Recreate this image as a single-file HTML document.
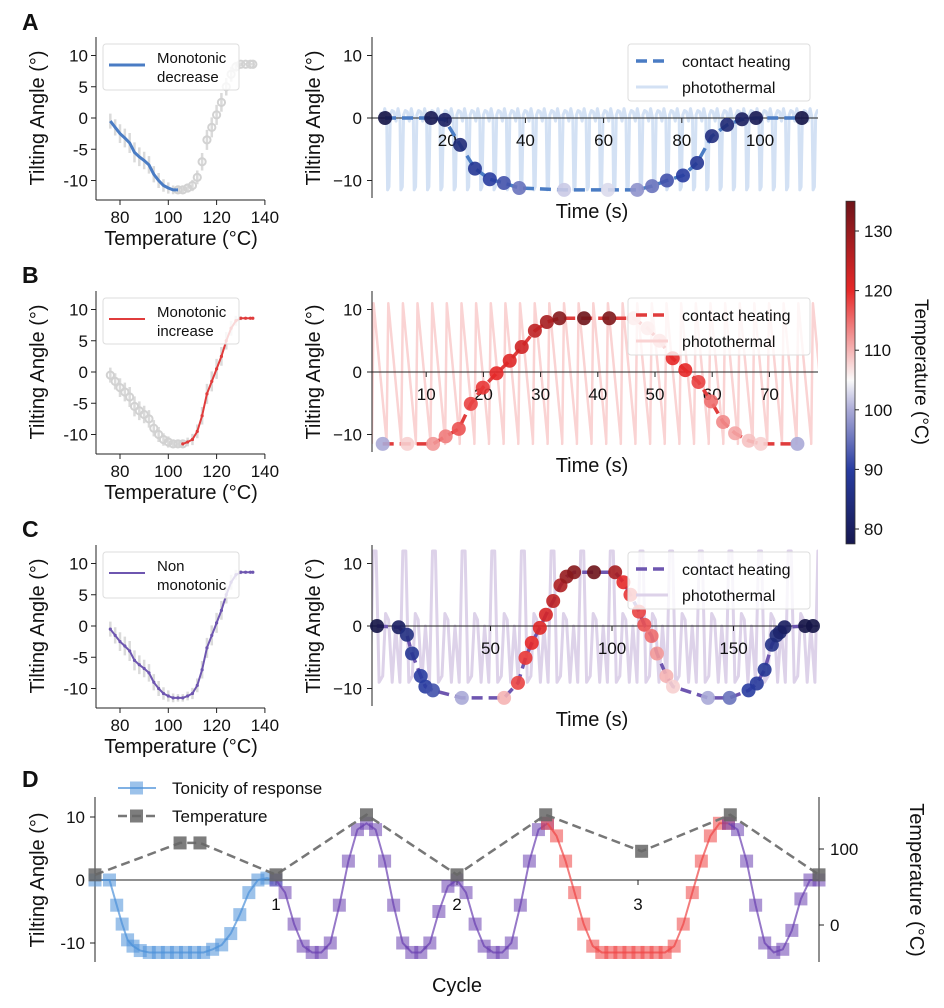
<!DOCTYPE html>
<html><head><meta charset="utf-8"><style>
html,body{margin:0;padding:0;background:#fff;}
svg{display:block;font-family:"Liberation Sans",Arial,sans-serif;}
</style></head><body>
<svg id="fig" width="944" height="1008" viewBox="0 0 944 1008" xmlns="http://www.w3.org/2000/svg"></svg>
<script>
// ---------- DATA ----------
const curveT = [76,78,80,82,84,86,88,90,92,94,96,98,100,102,104,106,108,110,112,114,116,118,120,122,124,126,128,130,132,134,135];
const curveA = [-0.5,-1.5,-2.5,-3.2,-4,-5.5,-6.2,-6.8,-7.5,-9,-10,-10.8,-11.2,-11.5,-11.5,-11.5,-11.2,-10.8,-9.5,-7,-3.5,-1.5,0.5,2.5,5,7,8.2,8.6,8.6,8.6,8.6];
const curveErr = [1.2,1.3,1.5,1.5,1.6,1.6,1.5,1.4,1.4,1.3,1.2,1.0,0.9,0.7,0.6,0.6,0.7,0.9,1.1,1.4,1.6,1.6,1.6,1.5,1.4,1.2,0.8,0.3,0.2,0.2,0.2];
const aTime = [4.1,15.9,19.4,23.3,27.1,30.9,34.5,38.4,49.9,61.1,68.6,72.4,76.2,80.3,83.9,87.7,91.6,95.4,99,110.7];
const aAngle = [0,0,-0.3,-4.3,-8.1,-9.8,-10.4,-11.2,-11.5,-11.5,-11.5,-10.9,-10,-9.2,-7.2,-2.9,-1.1,-0.2,0,0];
const aTemp = [76,78,80,84,88,90,92,95,102,103,98,95,92,90,88,85,83,80,78,76];
const bTime = [2.4,6.7,11.2,13.4,15.7,17.8,19.9,22.3,24.6,26.7,29,31.1,33.3,37.6,42,46.3,48.7,50.8,53.1,55.3,57.6,59.8,61.9,64,66.4,68.5,74.9];
const bAngle = [-11.5,-11.5,-11.5,-10.3,-9.1,-5.1,-2.5,-0.2,1.8,4,6.6,8,8.6,8.6,8.6,8.6,7,5,2.2,0.3,-1.6,-4.7,-8,-9.8,-11,-11.5,-11.5];
const bTemp = [100,108,112,114,117,118,119,120,121,123,125,128,132,135,133,110,110,112,120,120,118,115,113,111,109,108,100];
const cTime = [3.3,12.2,15.6,17.7,21.3,23.2,26.3,38.2,55.6,61.3,64.4,67,70.3,72.8,75.8,78.8,81.3,84.4,92.6,101.3,104.7,107.6,111.1,113.3,116.3,118.5,122.4,125.1,139.5,148.4,156.2,159.6,162.8,165.8,167.7,169.1,171,179.5,182.7];
const cAngle = [0,-0.2,-1.4,-4.4,-8,-9.7,-10.3,-11.5,-11.5,-9.1,-5.1,-2.7,-0.3,1.8,4,6.5,7.9,8.6,8.6,8.6,7,5,2.3,0.2,-1.6,-4.4,-8,-9.7,-11.5,-11.5,-10.3,-9.2,-7,-3,-1.5,-1,-0.2,0,0];
const cTemp = [76,80,85,88,90,90,92,100,110,118,119,120,121,122,125,127,130,132,135,128,120,119,118,117,115,112,110,108,100,95,90,89,88,86,84,82,80,76,76];
const ptAPhase = [0,0.15,0.3,0.45,0.52,0.62,0.72,0.85,1];
const ptAAngle = [1,-0.5,1.5,0,-11.5,-11,0.5,1.2,1];
const ptBPhase = [0,0.12,1];
const ptBAngle = [-11.5,11,-11];
const ptCPhase = [0,0.1,0.2,0.3,0.42,0.52,0.62,0.74,0.86,1];
const ptCAngle = [-9,12,12,-9,-8,2,1,-9,0,-9];
const dCycle = [0,0.08,0.12,0.15,0.18,0.21,0.25,0.3,0.35,0.4,0.45,0.5,0.55,0.6,0.65,0.7,0.75,0.8,0.85,0.9,0.95,1.0];
const dBlue  = [0,0,-4,-7,-9.5,-10.5,-11.2,-11.5,-11.5,-11.5,-11.5,-11.5,-11.5,-11.5,-11,-10.3,-8.5,-5.5,-2,0,0.3,0];
const dP1Cycle = [1,1.05,1.1,1.15,1.2,1.25,1.3,1.35,1.4,1.45,1.5,1.55,1.6,1.65,1.7,1.75,1.8,1.85,1.9,1.95,2,2.05,2.1,2.15,2.2,2.25,2.3,2.35,2.4,2.45,2.5];
const dP1 = [0,-2,-7,-10.5,-11.5,-11.5,-10,-4,3,8,9,8,3,-4,-10,-11.5,-11.5,-10,-5,-1,0,-2,-7,-10.5,-11.5,-11.5,-10,-4,3,8,9];
const dRCycle = [2.5,2.55,2.6,2.65,2.7,2.75,2.8,2.85,2.9,2.95,3,3.05,3.1,3.15,3.2,3.25,3.3,3.35,3.4,3.45,3.5];
const dRed = [9,7,3,-2,-7,-10.5,-11.5,-11.5,-11.5,-11.5,-11.5,-11.5,-11.5,-11.5,-10.5,-7,-2,3,7,9,9];
const dP2Cycle = [3.5,3.55,3.6,3.65,3.7,3.75,3.8,3.85,3.9,3.95,4];
const dP2 = [9,8,3,-4,-10,-11.5,-11,-8,-3,0,0];
const dTempCycle = [0,0.47,0.58,1,1.5,2,2.49,3.02,3.51,4];
const dTempVal = [66,108,108,66,145,66,145,97,145,66];
const leftYTicks = [10,5,0,-5,-10];
const leftXTicks = [80,100,120,140];
const rightYTicks = [10,0,-10];
const aXTicks = [20,40,60,80,100];
const bXTicks = [10,20,30,40,50,60,70];
const cXTicks = [50,100,150];
const cbTicks = [80,90,100,110,120,130];
const dXTicks = [1,2,3];
const dTempTicks = [0,100];

// ---------- helpers ----------
const NS='http://www.w3.org/2000/svg';
const svg=document.getElementById('fig');
function el(tag,attrs,parent){const e=document.createElementNS(NS,tag);for(const k in attrs)e.setAttribute(k,attrs[k]);(parent||svg).appendChild(e);return e;}
function txt(s,x,y,size,anchor,parent,extra){const t=el('text',Object.assign({x:x,y:y,'font-size':size,'text-anchor':anchor||'middle',fill:'#111'},extra||{}),parent);t.textContent=s;return t;}
function cmap(T){
  const st=[[76,[20,20,70]],[90,[40,60,160]],[100,[170,170,215]],[105,[250,250,250]],[110,[245,180,180]],[120,[230,40,40]],[135,[110,20,25]]];
  if(T<=st[0][0])return 'rgb('+st[0][1]+')';
  for(let i=1;i<st.length;i++){if(T<=st[i][0]){const f=(T-st[i-1][0])/(st[i][0]-st[i-1][0]);const c=st[i-1][1].map((v,j)=>Math.round(v+(st[i][1][j]-v)*f));return 'rgb('+c+')';}}
  return 'rgb('+st[st.length-1][1]+')';
}
function pathD(xs,ys,sx,sy){return xs.map((x,i)=>(i?'L':'M')+sx(x).toFixed(1)+','+sy(ys[i]).toFixed(1)).join('');}

// ---------- left panels ----------
function leftPanel(key,y0,mode,color,legend1,legend2){
  const g=el('g',{});
  
  
  const sx=T=>120+(T-80)*2.415, sy=a=>y0-a*6.25;
  const top=y0-81, bot=y0+82;
  el('line',{x1:96,y1:top,x2:96,y2:bot,stroke:'#222','stroke-width':1},g);
  el('line',{x1:96,y1:bot,x2:265,y2:bot,stroke:'#222','stroke-width':1},g);
  leftYTicks.forEach(v=>{el('line',{x1:91,y1:sy(v),x2:96,y2:sy(v),stroke:'#222'},g);txt(String(v),88,sy(v)+6,17,'end',g);});
  leftXTicks.forEach(v=>{el('line',{x1:sx(v),y1:bot,x2:sx(v),y2:bot+5,stroke:'#222'},g);txt(String(v),sx(v),bot+23,17,'middle',g);});
  txt('Tilting Angle (°)',0,0,20,'middle',g,{transform:'translate(44,'+y0+') rotate(-90)'});
  txt('Temperature (°C)',181,bot+45,20,'middle',g);
  curveT.forEach((T,i)=>{const e=el('line',{x1:sx(T),x2:sx(T),y1:sy(curveA[i]+curveErr[i]),y2:sy(curveA[i]-curveErr[i]),stroke:'#dadada','stroke-width':2.5},g);
    });
  const split=mode==='dec'?105:(mode==='inc'?106:999);
  const colT=[],colA=[],grT=[],grA=[];
  curveT.forEach((T,i)=>{const inColor=(mode==='dec')?T<=split:(mode==='inc')?T>=split:true;
    if(inColor){colT.push(T);colA.push(curveA[i]);}else{grT.push(T);grA.push(curveA[i]);}});
  if(mode==='dec'){grT.unshift(104);grA.unshift(-11.5);} if(mode==='inc'){grT.push(106);grA.push(-11.5);}
  if(mode!=='all'){grT.forEach((T,i)=>{const c=el('circle',{cx:sx(T),cy:sy(grA[i]),r:3.6,fill:'none',stroke:'#d2d2d2','stroke-width':2},g);
    });}
  const p=el('path',{d:pathD(colT,colA,sx,sy),fill:'none',stroke:color,'stroke-width':mode==='dec'?3:2},g);
  
  if(mode!=='dec'){colT.forEach((T,i)=>{const c=el('circle',{cx:sx(T),cy:sy(colA[i]),r:1.6,fill:color},g);});}
  const lg=el('g',{},g);
  
  el('rect',{x:103,y:top+7,width:136,height:46,rx:3,fill:'rgba(255,255,255,0.8)',stroke:'#ddd'},lg);
  el('line',{x1:109,y1:top+28,x2:145,y2:top+28,stroke:color,'stroke-width':mode==='dec'?3:2},lg);
  txt(legend1,157,top+26,15,'start',lg);txt(legend2,157,top+45,15,'start',lg);
}
leftPanel('a',118,'dec','#4a7cc4','Monotonic','decrease');
leftPanel('b',372,'inc','#e03c3c','Monotonic','increase');
leftPanel('c',626,'all','#6e56b0','Non','monotonic');

// ---------- right panels ----------
function rightPanel(key,y0,pxPerS,tMax,xt,times,angles,temps,lineColor,ptColor,ptPeriod,ptStart,ptPh,ptAn,ptW){
  const g=el('g',{});
  
  
  const sx=t=>369+t*pxPerS, sy=a=>y0-a*6.25;
  const top=y0-81,bot=y0+80;
  const clip=el('clipPath',{id:'clip'+key},g);el('rect',{x:372,y:top,width:446,height:bot-top},clip);
  const ts=[],as=[];
  for(let s=ptStart;s<tMax;s+=ptPeriod){ptPh.forEach((p,i)=>{ts.push(s+p*ptPeriod);as.push(ptAn[i]);});}
  const pt=el('path',{d:pathD(ts,as,sx,sy),fill:'none',stroke:ptColor,'stroke-width':ptW,'stroke-linejoin':'round','clip-path':'url(#clip'+key+')'},g);
  
  el('line',{x1:372,y1:top,x2:372,y2:bot,stroke:'#222'},g);
  el('line',{x1:372,y1:y0,x2:818,y2:y0,stroke:'#222'},g);
  rightYTicks.forEach(v=>{el('line',{x1:367,y1:sy(v),x2:372,y2:sy(v),stroke:'#222'},g);txt(v<0?'\u2212'+(-v):String(v),362,sy(v)+6,17,'end',g);});
  xt.forEach(v=>{el('line',{x1:sx(v),y1:y0,x2:sx(v),y2:y0+5,stroke:'#222'},g);txt(String(v),sx(v),y0+28,17,'middle',g);});
  txt('Tilting Angle (°)',0,0,20,'middle',g,{transform:'translate(320,'+y0+') rotate(-90)'});
  txt('Time (s)',592,bot+20,20,'middle',g);
  const cl=el('path',{d:pathD(times,angles,sx,sy),fill:'none',stroke:lineColor,'stroke-width':3.5,'stroke-dasharray':'11,6'},g);
  
  times.forEach((t,i)=>{const c=el('circle',{cx:sx(t),cy:sy(angles[i]),r:7,fill:cmap(temps[i]),'fill-opacity':0.9},g);
    });
  const lg=el('g',{},g);
  
  el('rect',{x:628,y:top+7,width:182,height:57,rx:3,fill:'rgba(255,255,255,0.8)',stroke:'#ddd'},lg);
  el('line',{x1:636,y1:top+24,x2:668,y2:top+24,stroke:lineColor,'stroke-width':3.5,'stroke-dasharray':'11,6'},lg);
  el('line',{x1:636,y1:top+50,x2:668,y2:top+50,stroke:ptColor,'stroke-width':3},lg);
  txt('contact heating',682,top+30,16,'start',lg);txt('photothermal',682,top+56,16,'start',lg);
}
rightPanel('a',118,3.91,116,aXTicks,aTime,aAngle,aTemp,'#4a7cc4','#d3e1f4',3.4,3.0,ptAPhase,ptAAngle,3);
rightPanel('b',372,5.72,79,bXTicks,bTime,bAngle,bTemp,'#e03c3c','#fad3d3',2.56,0.5,ptBPhase,ptBAngle,2.5);
rightPanel('c',626,2.43,185,cXTicks,cTime,cAngle,cTemp,'#6e56b0','#ddd2e9',12.2,0.5,ptCPhase,ptCAngle,3);

// ---------- colorbar ----------
(function(){
  const g=el('g',{});
  
  const cy=T=>529-(T-80)*5.96;
  const defs=el('defs',{},g);const lgd=el('linearGradient',{id:'cbg',x1:0,y1:1,x2:0,y2:0},defs);
  for(let T=77.5;T<=135.01;T+=2.5){el('stop',{offset:((T-77.5)/57.5).toFixed(3),'stop-color':cmap(T)},lgd);}
  el('rect',{x:846,y:cy(135),width:9,height:cy(77.5)-cy(135),fill:'url(#cbg)',stroke:'#333','stroke-width':0.8},g);
  cbTicks.forEach(v=>{el('line',{x1:855,y1:cy(v),x2:859,y2:cy(v),stroke:'#222'},g);txt(String(v),864,cy(v)+6,17,'start',g);});
  txt('Temperature (°C)',0,0,19,'middle',g,{transform:'translate(915,372) rotate(90)'});
})();

// ---------- panel D ----------
(function(){
  const g=el('g',{});
  
  const sx=c=>95+c*181, sy=a=>880-a*6.3, sy2=T=>849-(T-100)*0.76;
  const F='"Liberation Sans Narrow","Liberation Sans",sans-serif';
  el('line',{x1:95,y1:797,x2:95,y2:962,stroke:'#222'},g);
  el('line',{x1:819,y1:797,x2:819,y2:962,stroke:'#222'},g);
  el('line',{x1:95,y1:880,x2:819,y2:880,stroke:'#222'},g);
  rightYTicks.forEach(v=>{el('line',{x1:90,y1:sy(v),x2:95,y2:sy(v),stroke:'#222'},g);txt(String(v),85,sy(v)+6,17,'end',g,{'font-family':F});});
  dTempTicks.forEach(v=>{el('line',{x1:819,y1:sy2(v),x2:824,y2:sy2(v),stroke:'#222'},g);txt(String(v),830,sy2(v)+6,17,'start',g,{'font-family':F});});
  dXTicks.forEach(v=>{el('line',{x1:sx(v),y1:880,x2:sx(v),y2:885,stroke:'#222'},g);txt(String(v),sx(v),910,17,'middle',g,{'font-family':F});});
  txt('Tilting Angle (°)',0,0,20,'middle',g,{transform:'translate(44,880) rotate(-90)'});
  txt('Temperature (°C)',0,0,20,'middle',g,{transform:'translate(910,880) rotate(90)'});
  txt('Cycle',457,992,20,'middle',g,{'font-family':F});
  function series(xs,ys,col,name){
    const p=el('path',{d:pathD(xs,ys,sx,sy),fill:'none',stroke:col,'stroke-width':2,'stroke-opacity':0.7},g);
    
    xs.forEach((x,i)=>{const r=el('rect',{x:sx(x)-6.5,y:sy(ys[i])-6.5,width:13,height:13,fill:col,'fill-opacity':0.55},g);
      });
  }
  series(dCycle,dBlue,'#4a90d9','tonicity-blue');
  series(dP1Cycle,dP1,'#6a3fb0','tonicity-purple-1');
  series(dRCycle,dRed,'#ee4444','tonicity-red');
  series(dP2Cycle,dP2,'#6a3fb0','tonicity-purple-2');
  const tl=el('path',{d:pathD(dTempCycle,dTempVal,sx,sy2),fill:'none',stroke:'#777','stroke-width':2.5,'stroke-dasharray':'9,5'},g);
  
  dTempCycle.forEach((c,i)=>{const r=el('rect',{x:sx(c)-6.5,y:sy2(dTempVal[i])-6.5,width:13,height:13,fill:'#666','fill-opacity':0.85},g);
    });
  const lg=el('g',{},g);
  el('line',{x1:118,y1:788,x2:156,y2:788,stroke:'#4a90d9','stroke-width':2,'stroke-opacity':0.7},lg);
  el('rect',{x:130,y:781.5,width:13,height:13,fill:'#4a90d9','fill-opacity':0.55},lg);
  txt('Tonicity of response',172,794,17,'start',lg,{'font-family':F});
  el('line',{x1:118,y1:816,x2:156,y2:816,stroke:'#777','stroke-width':2.5,'stroke-dasharray':'9,5'},lg);
  el('rect',{x:130,y:809.5,width:13,height:13,fill:'#666','fill-opacity':0.85},lg);
  txt('Temperature',172,822,17,'start',lg,{'font-family':F});
})();

[['A',30],['B',283],['C',537],['D',787]].forEach(([l,y])=>{const t=txt(l,22,y,23,'start',svg,{'font-weight':'bold','font-family':'"Liberation Sans Narrow","Liberation Sans",sans-serif'});
  });
</script>
</body></html>
